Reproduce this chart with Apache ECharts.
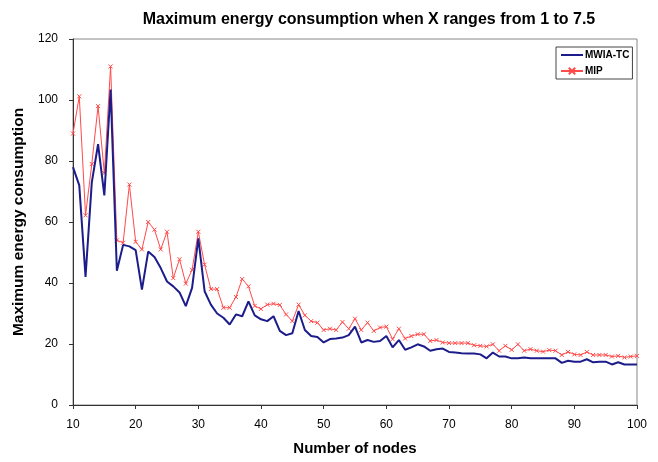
<!DOCTYPE html>
<html>
<head>
<meta charset="utf-8">
<script src="https://cdn.jsdelivr.net/npm/echarts@6/dist/echarts.min.js"></script>
<style>html,body{margin:0;padding:0;background:#fff}#c{width:658px;height:462px}</style>
</head>
<body>
<div id="c"></div>
<script>
var nodes = [10,11,12,13,14,15,16,17,18,19,20,21,22,23,24,25,26,27,28,29,30,31,32,33,34,35,36,37,38,39,40,41,42,43,44,45,46,47,48,49,50,51,52,53,54,55,56,57,58,59,60,61,62,63,64,65,66,67,68,69,70,71,72,73,74,75,76,77,78,79,80,81,82,83,84,85,86,87,88,89,90,91,92,93,94,95,96,97,98,99,100];
var mwiaTC = [78,72,42,73,85.5,68.7,103.4,44,52.5,52,50.8,37.8,50.3,48.5,44.9,40.5,38.9,36.9,32.4,38.4,54.6,37.3,32.9,30,28.6,26.4,29.7,29.1,34,29.4,28.1,27.5,29.1,24.3,22.9,23.5,30.8,24.6,22.6,22.3,20.5,21.6,21.8,22.1,22.9,25.7,20.5,21.3,20.7,21,22.6,18.9,21.3,18.1,18.9,19.9,19.2,17.8,18.3,18.5,17.4,17.2,17,16.9,16.9,16.6,15.3,17.2,15.9,15.9,15.3,15.3,15.6,15.3,15.3,15.3,15.3,15.3,13.8,14.5,14.2,14.2,15,14,14.2,14.2,13.3,14,13.3,13.3,13.3];
var mip = [89,101.2,62.2,79,98,76,111,54,53.2,72.3,53.5,51,60,57.5,51,56.8,41.6,47.8,39.8,44.3,56.8,46,38,38,31.9,31.9,35.4,41.3,38.9,32.5,31.5,32.9,33.2,32.8,29.7,27.5,32.9,29.4,27.5,27,24.6,25,24.6,27.2,25,28.3,24.6,27,24.3,25.4,25.7,21.6,25,21.8,22.6,23.2,23.2,21,21.3,20.5,20.3,20.3,20.3,20.3,19.6,19.4,19.2,19.9,17.8,19.4,18.1,19.9,17.8,18.3,17.8,17.5,18,17.8,16.4,17.4,16.6,16.4,17.4,16.4,16.4,16.4,15.9,16.1,15.6,15.9,16.1];
var seriesNames = ['MWIA-TC','MIP'];
var titleText = 'Maximum energy consumption when X ranges from 1 to 7.5';
var xName = 'Number of nodes';
var yName = 'Maximum energy consumption';

function pairs(ys){ return nodes.map(function(x,i){ return [x, ys[i]]; }); }

var chart = echarts.init(document.getElementById('c'), null, {renderer:'canvas'});
chart.setOption({
  animation:false,
  backgroundColor:'#fff',
  title:{text:titleText,left:364,textAlign:'center',top:7,
    textStyle:{fontFamily:'Liberation Sans, Arial, sans-serif',fontWeight:'bold',fontSize:16,color:'#000'}},
  legend:{
    left:556, top:47, orient:'vertical', itemGap:6,
    borderColor:'#444', borderWidth:1, padding:[3,3,3,4],
    itemWidth:22, itemHeight:8,
    textStyle:{fontFamily:'Liberation Sans, Arial, sans-serif',fontWeight:'bold',fontSize:10,color:'#000',padding:[0,0,0,-3]},
    data:[
      {name:seriesNames[0],icon:'path://M0,0L22,0L22,2L0,2Z'},
      {name:seriesNames[1]}
    ]
  },
  grid:{left:73,right:21,top:39,bottom:57,show:true,borderColor:'#888',borderWidth:1},
  xAxis:{type:'value',min:10,max:100,interval:10,
    name:xName,nameLocation:'middle',nameGap:36,
    nameTextStyle:{fontFamily:'Liberation Sans, Arial, sans-serif',fontWeight:'bold',fontSize:15,color:'#000'},
    axisLine:{show:true,lineStyle:{color:'#333',width:1}},
    axisTick:{show:true,length:4,lineStyle:{color:'#333'}},
    axisLabel:{fontFamily:'Liberation Sans Narrow, Liberation Sans, Arial, sans-serif',fontSize:12,color:'#000',margin:14},
    splitLine:{show:false}},
  yAxis:{type:'value',min:0,max:120,interval:20,
    name:yName,nameLocation:'middle',nameGap:44,
    nameTextStyle:{fontFamily:'Liberation Sans, Arial, sans-serif',fontWeight:'bold',fontSize:15.5,color:'#000'},
    axisLine:{show:true,lineStyle:{color:'#333',width:1}},
    axisTick:{show:true,length:4,lineStyle:{color:'#333'}},
    axisLabel:{fontFamily:'Liberation Sans Narrow, Liberation Sans, Arial, sans-serif',fontSize:12,color:'#000',margin:15},
    splitLine:{show:false}},
  series:[
    {name:seriesNames[1],type:'line',data:pairs(mip),z:2,
      lineStyle:{color:'#ff4a4a',width:1},
      symbol:'path://M0,0L10,10M10,0L0,10',symbolSize:4,showSymbol:true,
      itemStyle:{color:'#ff4a4a',borderColor:'#ff4a4a',borderWidth:1}},
    {name:seriesNames[0],type:'line',data:pairs(mwiaTC),z:3,
      lineStyle:{color:'#1c1c8a',width:2},
      symbol:'none',itemStyle:{color:'#1c1c8a'}}
  ]
});
</script>
</body>
</html>
